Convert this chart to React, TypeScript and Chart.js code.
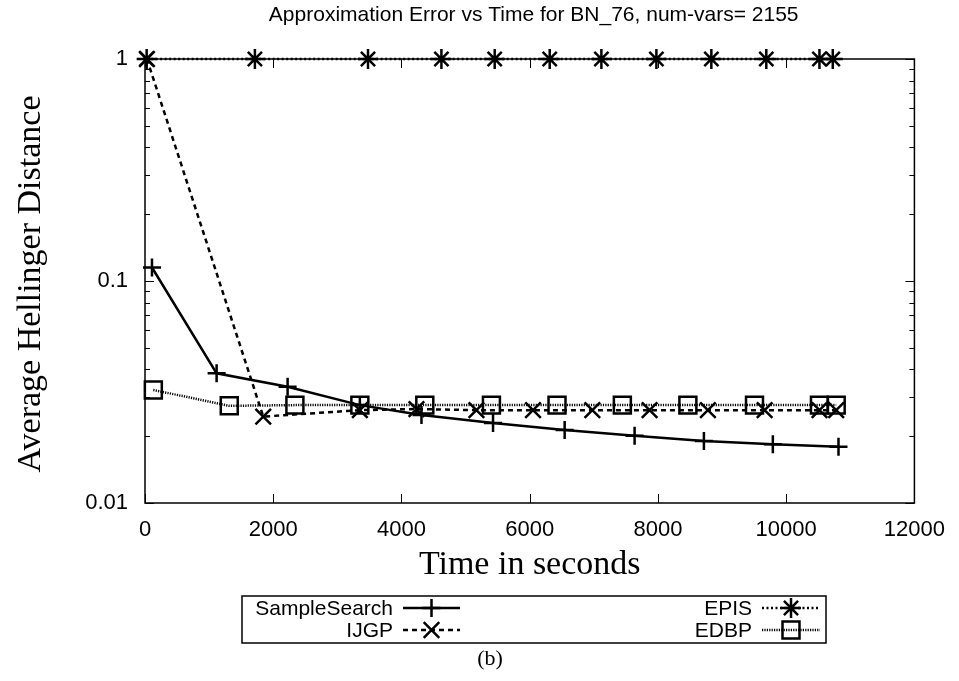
import React, { useEffect, useRef } from 'react';
import { Chart, registerables } from 'chart.js';

Chart.register(...registerables);

const chartTitle = 'Approximation Error vs Time for BN_76, num-vars= 2155';
const xTitle = 'Time in seconds';
const yTitle = 'Average Hellinger Distance';
const caption = '(b)';

const seriesNames = ['SampleSearch', 'IJGP', 'EPIS', 'EDBP'];

const sampleSearchTime = [109, 1117, 2224, 3351, 4312, 5428, 6545, 7636, 8717, 9792, 10816];
const sampleSearchErr = [0.115, 0.0384, 0.0334, 0.0276, 0.0249, 0.0229, 0.0213, 0.0201, 0.019, 0.0184, 0.0179];

const ijgpTime = [30, 1844, 3351, 4234, 5169, 6052, 6977, 7870, 8779, 9664, 10520, 10780];
const ijgpErr = [1, 0.0245, 0.0262, 0.0265, 0.0262, 0.0262, 0.0262, 0.0262, 0.0262, 0.0262, 0.0262, 0.0262];

const episTime = [26, 1714, 3478, 4623, 5454, 6312, 7118, 7976, 8833, 9690, 10519, 10727];
const episErr = [1, 1, 1, 1, 1, 1, 1, 1, 1, 1, 1, 1];

const edbpTime = [130, 1314, 2338, 3351, 4364, 5403, 6426, 7445, 8467, 9506, 10519, 10780];
const edbpErr = [0.0323, 0.0274, 0.0276, 0.0276, 0.0276, 0.0276, 0.0276, 0.0276, 0.0276, 0.0276, 0.0276, 0.0276];

const xTickValues = [0, 2000, 4000, 6000, 8000, 10000, 12000];
const yTickValues = [0.01, 0.1, 1];

const SANS = '"Liberation Sans", Arial, sans-serif';
const SERIF = '"Liberation Serif", "Times New Roman", serif';

const pts = (xs: number[], ys: number[]) => xs.map((x, i) => ({ x, y: ys[i] }));

const styles = [
  { dash: [] as number[], point: 'cross', radius: 9, width: 2.5 },
  { dash: [5, 4], point: 'crossRot', radius: 11, width: 2.5 },
  { dash: [2, 2.5], point: 'star', radius: 10, width: 2.5 },
  { dash: [1.2, 1.2], point: 'rect', radius: 12, width: 2.5 },
];

function drawMarker(ctx: CanvasRenderingContext2D, style: string, x: number, y: number, r: number) {
  ctx.beginPath();
  const d = r * Math.SQRT1_2;
  if (style === 'cross' || style === 'star') {
    ctx.moveTo(x - r, y); ctx.lineTo(x + r, y);
    ctx.moveTo(x, y - r); ctx.lineTo(x, y + r);
  }
  if (style === 'crossRot' || style === 'star') {
    ctx.moveTo(x - d, y - d); ctx.lineTo(x + d, y + d);
    ctx.moveTo(x - d, y + d); ctx.lineTo(x + d, y - d);
  }
  if (style === 'rect') {
    ctx.rect(x - d, y - d, 2 * d, 2 * d);
  }
  ctx.stroke();
}

const decorPlugin = {
  id: 'decor',
  afterDatasetsDraw(chart: any) {
    const ctx: CanvasRenderingContext2D = chart.ctx;
    const { left, right, top, bottom } = chart.chartArea;
    const xs = chart.scales.x;
    const ys = chart.scales.y;
    ctx.save();
    ctx.strokeStyle = '#000';
    ctx.lineWidth = 1.5;
    ctx.setLineDash([]);
    ctx.strokeRect(left, top, right - left, bottom - top);
    // x ticks, inward on both sides
    ctx.lineWidth = 1;
    ctx.beginPath();
    xTickValues.forEach((v) => {
      const px = Math.round(xs.getPixelForValue(v)) + 0.5;
      ctx.moveTo(px, bottom); ctx.lineTo(px, bottom - 9);
      ctx.moveTo(px, top); ctx.lineTo(px, top + 9);
    });
    // y ticks, log major + minor
    for (let e = -2; e <= 0; e++) {
      for (let m = 1; m <= 9; m++) {
        const v = m * Math.pow(10, e);
        if (v > 1.0001) continue;
        const py = Math.round(ys.getPixelForValue(v)) + 0.5;
        const len = m === 1 ? 9 : 5;
        ctx.moveTo(left, py); ctx.lineTo(left + len, py);
        ctx.moveTo(right, py); ctx.lineTo(right - len, py);
      }
    }
    ctx.stroke();

    // titles
    ctx.fillStyle = '#000';
    ctx.textAlign = 'center';
    ctx.textBaseline = 'middle';
    ctx.font = `21px ${SANS}`;
    ctx.fillText(chartTitle, (left + right) / 2 + 4, 15);
    ctx.textBaseline = 'alphabetic';
    ctx.font = `34px ${SERIF}`;
    ctx.fillText(xTitle, (left + right) / 2, 574);
    ctx.save();
    ctx.translate(40, 284);
    ctx.rotate(-Math.PI / 2);
    ctx.fillText(yTitle, 0, 0);
    ctx.restore();
    ctx.textBaseline = 'middle';
    ctx.font = `22px ${SERIF}`;
    ctx.fillText(caption, 490, 659);

    // legend
    ctx.lineWidth = 1.5;
    ctx.strokeRect(242, 596, 826 - 242, 643 - 596);
    const rows = [608, 630];
    const cols = [{ textRight: 393, lineL: 403, lineR: 460 }, { textRight: 752, lineL: 762, lineR: 820 }];
    ctx.font = `21px ${SANS}`;
    ctx.textAlign = 'right';
    [0, 2, 1, 3].forEach((idx, k) => {
      const col = cols[k % 2];
      const row = rows[k < 2 ? 0 : 1];
      const s = styles[idx];
      ctx.fillText(seriesNames[idx], col.textRight, row + 1);
      ctx.lineWidth = s.width;
      ctx.setLineDash(s.dash);
      ctx.beginPath();
      ctx.moveTo(col.lineL, row); ctx.lineTo(col.lineR, row);
      ctx.stroke();
      ctx.setLineDash([]);
      drawMarker(ctx, s.point, (col.lineL + col.lineR) / 2, row, s.radius);
    });
    ctx.restore();
  },
};

export default function App() {
  const ref = useRef<HTMLCanvasElement>(null);
  useEffect(() => {
    if (!ref.current) return;
    const data = [
      pts(sampleSearchTime, sampleSearchErr),
      pts(ijgpTime, ijgpErr),
      pts(episTime, episErr),
      pts(edbpTime, edbpErr),
    ];
    const chart = new Chart(ref.current, {
      type: 'scatter',
      data: {
        datasets: data.map((d, i) => ({
          label: seriesNames[i],
          data: d,
          showLine: true,
          borderColor: '#000',
          backgroundColor: 'rgba(0,0,0,0)',
          borderWidth: styles[i].width,
          borderDash: styles[i].dash,
          pointStyle: styles[i].point as any,
          pointRadius: styles[i].radius,
          pointBorderWidth: 2.5,
          pointBorderColor: '#000',
          pointBackgroundColor: 'rgba(0,0,0,0)',
          clip: false as any,
          order: 3 - i,
        })),
      },
      plugins: [decorPlugin],
      options: {
        animation: false,
        responsive: false,
        devicePixelRatio: 1,
        layout: { padding: { top: 59, right: 44, left: 0, bottom: 0 } },
        plugins: { legend: { display: false }, title: { display: false }, tooltip: { enabled: false } },
        scales: {
          x: {
            type: 'linear',
            min: 0,
            max: 12000,
            grid: { display: false, drawTicks: false },
            border: { display: false },
            afterFit: (s: any) => { s.height = 178; },
            afterBuildTicks: (s: any) => { s.ticks = xTickValues.map((v) => ({ value: v })); },
            ticks: {
              padding: 14,
              color: '#000',
              font: { family: SANS, size: 22 },
              maxRotation: 0,
              autoSkip: false,
              callback: (v: any) => String(v),
            },
          },
          y: {
            type: 'logarithmic',
            min: 0.01,
            max: 1,
            grid: { display: false, drawTicks: false },
            border: { display: false },
            afterFit: (s: any) => { s.width = 145; },
            afterBuildTicks: (s: any) => { s.ticks = yTickValues.map((v) => ({ value: v })); },
            ticks: {
              padding: 17,
              color: '#000',
              font: { family: SANS, size: 22 },
              autoSkip: false,
              callback: (v: any) => String(v),
            },
          },
        },
      },
    });
    return () => chart.destroy();
  }, []);
  return (
    <div style={{ position: 'fixed', left: 0, top: 0, width: 959, height: 681, background: '#fff' }}>
      <canvas ref={ref} width={959} height={681} style={{ width: 959, height: 681 }} />
    </div>
  );
}
